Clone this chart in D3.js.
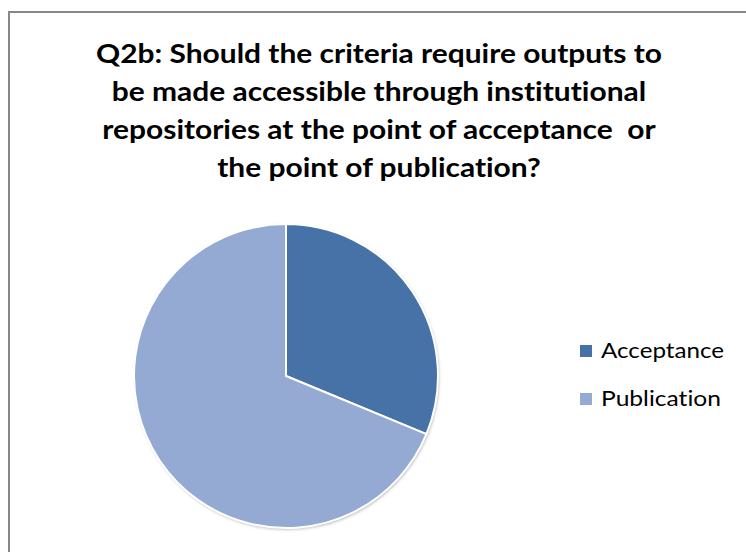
<!DOCTYPE html>
<html>
<head>
<meta charset="utf-8">
<script src="https://cdn.jsdelivr.net/npm/d3@7"></script>
<style>
  html, body { margin: 0; padding: 0; background: #fff; }
  svg { display: block; }
  text { font-variant-ligatures: none; }
</style>
</head>
<body>
<svg id="chart" width="746" height="552"></svg>
<script>
// Survey responses
const categories = ["Acceptance", "Publication"];
const counts = [10, 22];
const colors = ["#4672A8", "#94AAD2"];
const titleLines = [
  "Q2b: Should the criteria require outputs to",
  "be made accessible through institutional",
  "repositories at the point of acceptance  or",
  "the point of publication?"
];

const svg = d3.select("#chart");
const W = 746, H = 552;

// soft drop shadow behind the pie
const defs = svg.append("defs");
const f = defs.append("filter").attr("id", "pieShadow")
  .attr("x", "-10%").attr("y", "-10%").attr("width", "120%").attr("height", "120%");
f.append("feDropShadow").attr("dx", 1).attr("dy", 1.5).attr("stdDeviation", 1.5)
  .attr("flood-color", "#000").attr("flood-opacity", 0.3);

// chart frame
svg.append("rect")
  .attr("x", 9).attr("y", 12)
  .attr("width", W + 20).attr("height", H + 20)
  .attr("fill", "#fff")
  .attr("stroke", "#878787").attr("stroke-width", 2);

// title
const title = svg.append("g")
  .attr("font-family", "Lato, 'Open Sans', sans-serif")
  .attr("font-weight", "bold")
  .attr("font-size", 27)
  .attr("fill", "#000")
  .attr("text-anchor", "middle");
const baselines = [63, 101, 139, 177];
const titleT = title.selectAll("text").data(titleLines).join("text")
  .attr("x", 379)
  .attr("y", (d, i) => baselines[i])
  .attr("xml:space", "preserve")
  .text(d => d);
// fit the first line to its target width and apply the same scale to all
const w0 = titleT.nodes()[0].getComputedTextLength();
const sx = 566 / w0;
titleT.each(function () {
  const w = this.getComputedTextLength();
  d3.select(this).attr("textLength", w * sx).attr("lengthAdjust", "spacingAndGlyphs");
});

// pie
const cx = 286, cy = 376, r = 152;
const pie = d3.pie().sort(null).value(d => d)(counts);
const arc = d3.arc().innerRadius(0).outerRadius(r);
const pg = svg.append("g").attr("transform", `translate(${cx},${cy})`);
pg.append("circle").attr("r", r).attr("fill", "#94AAD2").attr("filter", "url(#pieShadow)");
pg.selectAll("path").data(pie).join("path")
  .attr("d", arc)
  .attr("fill", (d, i) => colors[i])
  .attr("stroke", "#fff")
  .attr("stroke-width", 2)
  .attr("stroke-linejoin", "round");

// legend
const lg = svg.append("g")
  .attr("font-family", "Lato, 'Open Sans', sans-serif")
  .attr("font-size", 21)
  .attr("fill", "#000");
const item = lg.selectAll("g").data(categories).join("g")
  .attr("transform", (d, i) => `translate(580, ${345 + i * 48})`);
item.append("rect").attr("width", 12).attr("height", 12)
  .attr("fill", (d, i) => colors[i]);
item.append("text").attr("x", 21).attr("y", 13).text(d => d);
item.selectAll("text").each(function () {
  const target = this.textContent === "Acceptance" ? 123 : 120;
  d3.select(this).attr("textLength", target).attr("lengthAdjust", "spacingAndGlyphs");
});
</script>
</body>
</html>
